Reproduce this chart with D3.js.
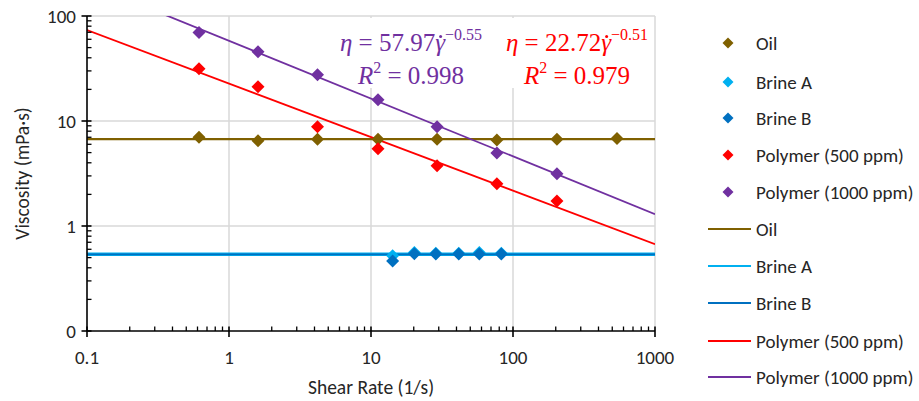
<!DOCTYPE html>
<html>
<head>
<meta charset="utf-8">
<script src="https://cdn.jsdelivr.net/npm/d3@7"></script>
<style>
  body { margin: 0; background: #fff; }
  text { font-family: Carlito, Lato, sans-serif; }
  .eq { font-family: "Liberation Serif", "DejaVu Serif", serif; }
</style>
</head>
<body>
<div id="chart"></div>
<script>
// data
var shearRate = [0.615, 1.6, 4.2, 11.2, 29.2, 77, 204, 540];
var oil = [7.0, 6.5, 6.7, 6.7, 6.7, 6.6, 6.7, 6.8];

var brineRate = [14.2, 20.2, 28.6, 41.5, 57.9, 82.7];
var brineA = [0.52, 0.56, 0.55, 0.55, 0.56, 0.55];
var brineB = [0.465, 0.545, 0.54, 0.54, 0.54, 0.54];

var polymerRate = [0.615, 1.6, 4.2, 11.2, 29.2, 77, 204];
var polymer500 = [31.5, 21.2, 8.8, 5.45, 3.75, 2.52, 1.73];
var polymer1000 = [69.5, 45.7, 27.6, 15.9, 8.8, 4.97, 3.14];

// fitted / average lines (end points)
var lineX = [0.1, 1000];
var oilLine = [6.72, 6.72];
var brineALine = [0.538, 0.538];
var brineBLine = [0.536, 0.536];
var polymer500Line = [73.5, 0.67];
var polymer1000Line = [205.7, 1.298];

var xTicks = [0.1, 1, 10, 100, 1000];
var xTickLabels = ["0.1", "1", "10", "100", "1000"];
var yTicks = [0.1, 1, 10, 100];
var yTickLabels = ["0", "1", "10", "100"];

var seriesNames = ["Oil", "Brine A", "Brine B", "Polymer (500 ppm)", "Polymer (1000 ppm)"];
var colors = ["#7f6000", "#00b0f0", "#0070c0", "#ff0000", "#7030a0"];

var width = 919, height = 401;
var margin = {top: 16, right: 264, bottom: 70, left: 87};

var svg = d3.select("#chart").append("svg")
    .attr("width", width)
    .attr("height", height);

var x = d3.scaleLog().domain([0.1, 1000]).range([margin.left, width - margin.right]);
var y = d3.scaleLog().domain([0.1, 100]).range([height - margin.bottom, margin.top]);

svg.append("clipPath").attr("id", "plot")
  .append("rect")
    .attr("x", x(0.1)).attr("y", y(100))
    .attr("width", x(1000) - x(0.1)).attr("height", y(0.1) - y(100));

// grid
svg.append("g").selectAll("line")
  .data(xTicks.slice(1))
  .enter().append("line")
    .attr("x1", function(d) { return x(d); })
    .attr("x2", function(d) { return x(d); })
    .attr("y1", y(100)).attr("y2", y(0.1))
    .attr("stroke", "#d9d9d9").attr("stroke-width", 1.5);
svg.append("g").selectAll("line")
  .data(yTicks.slice(1))
  .enter().append("line")
    .attr("x1", x(0.1)).attr("x2", x(1000))
    .attr("y1", function(d) { return y(d); })
    .attr("y2", function(d) { return y(d); })
    .attr("stroke", "#d9d9d9").attr("stroke-width", 1.5);

// white boxes behind the equations
svg.append("rect").attr("x", 334).attr("y", 18).attr("width", 157).attr("height", 70).attr("fill", "#fff");
svg.append("rect").attr("x", 497).attr("y", 18).attr("width", 156).attr("height", 70).attr("fill", "#fff");

// lines
var lineGen = d3.line()
  .x(function(d) { return x(d[0]); })
  .y(function(d) { return y(d[1]); });

var lines = [oilLine, brineALine, brineBLine, polymer500Line, polymer1000Line];
var lineWidths = [2.2, 3.4, 1.8, 1.8, 1.8];
var plotG = svg.append("g").attr("clip-path", "url(#plot)");
lines.forEach(function(vals, i) {
  plotG.append("path")
    .datum(d3.zip(lineX, vals))
    .attr("d", lineGen)
    .attr("fill", "none")
    .attr("stroke", colors[i])
    .attr("stroke-width", lineWidths[i]);
});

// markers
function diamond(r) {
  return "M0," + (-r) + "L" + r + ",0L0," + r + "L" + (-r) + ",0Z";
}
var points = [
  d3.zip(shearRate, oil),
  d3.zip(brineRate, brineA),
  d3.zip(brineRate, brineB),
  d3.zip(polymerRate, polymer500),
  d3.zip(polymerRate, polymer1000)
];
points.forEach(function(pts, i) {
  svg.append("g").selectAll("path")
    .data(pts)
    .enter().append("path")
      .attr("d", diamond(6.5))
      .attr("transform", function(d) { return "translate(" + x(d[0]) + "," + y(d[1]) + ")"; })
      .attr("fill", colors[i]);
});

// axes
var axisG = svg.append("g");
axisG.append("line")
  .attr("x1", x(0.1)).attr("x2", x(1000))
  .attr("y1", y(0.1)).attr("y2", y(0.1))
  .attr("stroke", "#000").attr("stroke-width", 1.6);
axisG.append("line")
  .attr("x1", x(0.1)).attr("x2", x(0.1))
  .attr("y1", y(0.1)).attr("y2", y(100))
  .attr("stroke", "#000").attr("stroke-width", 1.6);

var xMinor = x.ticks(40).filter(function(d) { return xTicks.indexOf(d) < 0; });
var yMinor = y.ticks(40).filter(function(d) { return yTicks.indexOf(d) < 0; });

axisG.selectAll(".xminor").data(xMinor).enter().append("line")
  .attr("x1", function(d) { return x(d); }).attr("x2", function(d) { return x(d); })
  .attr("y1", y(0.1)).attr("y2", y(0.1) - 4.5)
  .attr("stroke", "#000").attr("stroke-width", 1.3);
axisG.selectAll(".xmajor").data(xTicks).enter().append("line")
  .attr("x1", function(d) { return x(d); }).attr("x2", function(d) { return x(d); })
  .attr("y1", y(0.1) - 4.5).attr("y2", y(0.1) + 6)
  .attr("stroke", "#000").attr("stroke-width", 1.6);
axisG.selectAll(".yminor").data(yMinor).enter().append("line")
  .attr("x1", x(0.1)).attr("x2", x(0.1) + 4.5)
  .attr("y1", function(d) { return y(d); }).attr("y2", function(d) { return y(d); })
  .attr("stroke", "#000").attr("stroke-width", 1.3);
axisG.selectAll(".ymajor").data(yTicks).enter().append("line")
  .attr("x1", x(0.1) - 5.5).attr("x2", x(0.1) + 4.5)
  .attr("y1", function(d) { return y(d); }).attr("y2", function(d) { return y(d); })
  .attr("stroke", "#000").attr("stroke-width", 1.6);

axisG.selectAll(".xlab").data(xTicks).enter().append("text")
  .attr("x", function(d) { return x(d); })
  .attr("y", y(0.1) + 33)
  .attr("text-anchor", "middle")
  .style("font-size", "19px").attr("fill", "#262626")
  .text(function(d, i) { return xTickLabels[i]; });
axisG.selectAll(".ylab").data(yTicks).enter().append("text")
  .attr("x", x(0.1) - 11)
  .attr("y", function(d) { return y(d); })
  .attr("dy", "0.35em")
  .attr("text-anchor", "end")
  .style("font-size", "19px").attr("fill", "#262626")
  .text(function(d, i) { return yTickLabels[i]; });

svg.append("text")
  .attr("x", (x(0.1) + x(1000)) / 2).attr("y", 394)
  .attr("text-anchor", "middle")
  .style("font-size", "19.5px").attr("fill", "#262626")
  .text("Shear Rate (1/s)");
svg.append("text")
  .attr("transform", "translate(29," + (y(0.1) + y(100)) / 2 + ") rotate(-90)")
  .attr("text-anchor", "middle")
  .style("font-size", "19.5px").attr("fill", "#262626")
  .text("Viscosity (mPa·s)");

// equations
function equation(cx, coef, expo, r2, color) {
  var t1 = svg.append("text").attr("class", "eq")
    .attr("x", cx).attr("y", 51).attr("text-anchor", "middle")
    .style("font-size", "25px").attr("fill", color);
  t1.append("tspan").style("font-style", "italic").text("η");
  t1.append("tspan").text(" = " + coef);
  t1.append("tspan").style("font-style", "italic").text("γ");
  t1.append("tspan").attr("dy", -11).style("font-size", "16px").text(expo);
  // dot over gamma
  var n = t1.node();
  var gi = ("η = " + coef).length;
  var ext = n.getExtentOfChar(gi);
  svg.append("circle")
    .attr("cx", ext.x + ext.width / 2 + 0.5)
    .attr("cy", ext.y + 7.5)
    .attr("r", 1.5)
    .attr("fill", color);
  var t2 = svg.append("text").attr("class", "eq")
    .attr("x", cx).attr("y", 84).attr("text-anchor", "middle")
    .style("font-size", "25px").attr("fill", color);
  t2.append("tspan").style("font-style", "italic").text("R");
  t2.append("tspan").attr("dy", -11).style("font-size", "16px").text("2");
  t2.append("tspan").attr("dy", 11).text(" = " + r2);
}
equation(411, "57.97", "−0.55", "0.998", colors[4]);
equation(577, "22.72", "−0.51", "0.979", colors[3]);

// legend
var markerRows = [43, 82, 118, 155, 192];
var lineRows = [229, 266, 303, 341, 377];
var leg = svg.append("g");
seriesNames.forEach(function(name, i) {
  leg.append("path")
    .attr("d", diamond(5.5))
    .attr("transform", "translate(728," + markerRows[i] + ")")
    .attr("fill", colors[i]);
  leg.append("text")
    .attr("x", 756).attr("y", markerRows[i]).attr("dy", "0.35em")
    .style("font-size", "19px").attr("fill", "#262626")
    .text(name);
  leg.append("line")
    .attr("x1", 708).attr("x2", 751)
    .attr("y1", lineRows[i]).attr("y2", lineRows[i])
    .attr("stroke", colors[i]).attr("stroke-width", 2);
  leg.append("text")
    .attr("x", 756).attr("y", lineRows[i]).attr("dy", "0.35em")
    .style("font-size", "19px").attr("fill", "#262626")
    .text(name);
});
</script>
</body>
</html>
